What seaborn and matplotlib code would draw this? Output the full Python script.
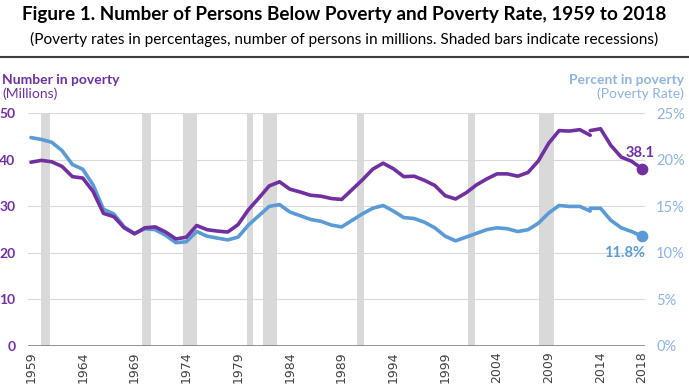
import numpy as np
import pandas as pd
import seaborn as sns
import matplotlib.pyplot as plt

# poverty data, Census figure 1 (2013 has two estimates, so the line breaks there)
years_a = list(range(1959, 2014))
number_a = [39.5, 39.9, 39.6, 38.6, 36.4, 36.1, 33.2, 28.5, 27.8, 25.4,
            24.1, 25.4, 25.6, 24.5, 23.0, 23.4, 25.9, 25.0, 24.7, 24.5,
            26.1, 29.3, 31.8, 34.4, 35.3, 33.7, 33.1, 32.4, 32.2, 31.7,
            31.5, 33.6, 35.7, 38.0, 39.3, 38.1, 36.4, 36.5, 35.6, 34.5,
            32.3, 31.6, 32.9, 34.6, 35.9, 37.0, 37.0, 36.5, 37.3, 39.8,
            43.6, 46.3, 46.2, 46.5, 45.3]
rate_a = [22.4, 22.2, 21.9, 21.0, 19.5, 19.0, 17.3, 14.7, 14.2, 12.8,
          12.1, 12.6, 12.5, 11.9, 11.1, 11.2, 12.3, 11.8, 11.6, 11.4,
          11.7, 13.0, 14.0, 15.0, 15.2, 14.4, 14.0, 13.6, 13.4, 13.0,
          12.8, 13.5, 14.2, 14.8, 15.1, 14.5, 13.8, 13.7, 13.3, 12.7,
          11.8, 11.3, 11.7, 12.1, 12.5, 12.7, 12.6, 12.3, 12.5, 13.2,
          14.3, 15.1, 15.0, 15.0, 14.5]
years_b = [2013, 2014, 2015, 2016, 2017, 2018]
number_b = [46.3, 46.7, 43.1, 40.6, 39.7, 38.1]
rate_b = [14.8, 14.8, 13.5, 12.7, 12.3, 11.8]

# recession periods (as drawn)
recessions = [(1959.95, 1960.8), (1969.7, 1970.55), (1973.7, 1975.0),
              (1979.9, 1980.4), (1981.4, 1982.8), (1990.5, 1991.2),
              (2001.2, 2001.9), (2008.1, 2009.5)]
tick_years = [1959, 1964, 1969, 1974, 1979, 1984, 1989, 1994, 1999, 2004, 2009, 2014, 2018]

purple = '#7030a0'
blue = '#5b9bd5'
lightblue = '#8db4e2'

sns.set_style('white')
plt.rcParams['font.family'] = ['Lato', 'DejaVu Sans']

df_a = pd.DataFrame({'year': years_a, 'number': number_a, 'rate': rate_a})
df_b = pd.DataFrame({'year': years_b, 'number': number_b, 'rate': rate_b})

fig = plt.figure(figsize=(6.89, 3.87), dpi=100)
ax = fig.add_axes([0.0406, 0.106, 0.8955, 0.601])
ax2 = ax.twinx()
# ax (number, purple) sits on top; ax2 (rate, blue) holds the bars and grid
ax.set_zorder(ax2.get_zorder() + 1)
ax.patch.set_visible(False)

for start, end in recessions:
    ax2.axvspan(start, end, color='#d9d9d9', lw=0, zorder=0)
for y in [5, 10, 15, 20, 25]:
    ax2.axhline(y, color='#d9d9d9', lw=0.8, zorder=0.5)

for d in [df_a, df_b]:
    sns.lineplot(data=d, x='year', y='rate', ax=ax2, color=blue, lw=2.6, zorder=2)
    sns.lineplot(data=d, x='year', y='number', ax=ax, color=purple, lw=2.6, zorder=2)

ax.scatter([years_b[-1]], [number_b[-1]], s=55, color=purple, zorder=5, clip_on=False)
ax2.scatter([years_b[-1]], [rate_b[-1]], s=55, color=blue, zorder=5, clip_on=False)
ax.text(years_b[-1] - 0.2, number_b[-1] + 1.8, '38.1', color=purple,
        fontsize=10.5, fontweight='bold', ha='center', va='bottom')
ax2.text(years_b[-1] + 0.3, rate_b[-1] - 1.0, '11.8%', color=blue,
         fontsize=10.5, fontweight='bold', ha='right', va='top')

ax.set_xlim(1958.71, 2018.29)
ax.set_ylim(0, 50)
ax2.set_ylim(0, 25)

ax.set_xticks(tick_years)
ax.set_xticklabels([str(t) for t in tick_years], rotation=90,
                   fontsize=9, color='#404040', family='DejaVu Sans')
ax.set_yticks([0, 10, 20, 30, 40, 50])
ax.set_yticklabels(['0', '10', '20', '30', '40', '50'], color=purple,
                   fontweight='bold', fontsize=10)
ax2.set_yticks([0, 5, 10, 15, 20, 25])
ax2.set_yticklabels(['0%', '5%', '10%', '15%', '20%', '25%'],
                    color=lightblue, fontsize=10.5)
ax.tick_params(axis='y', length=0, pad=9)
ax.tick_params(axis='x', length=0, pad=4)
ax2.tick_params(axis='y', length=0, pad=8)
ax.set_xlabel('')
ax.set_ylabel('')
ax2.set_ylabel('')

for a in [ax, ax2]:
    for s in ['top', 'left', 'right', 'bottom']:
        a.spines[s].set_visible(False)
ax.axhline(0, color='#808080', lw=1.2, zorder=1)

fig.text(0.5, 0.963, 'Figure 1. Number of Persons Below Poverty and Poverty Rate, 1959 to 2018',
         ha='center', va='center', fontsize=13.6, fontweight='bold', color='black')
fig.text(0.5, 0.897, '(Poverty rates in percentages, number of persons in millions. Shaded bars indicate recessions)',
         ha='center', va='center', fontsize=11.1, color='black')
fig.add_artist(plt.Line2D([0, 1], [0.853, 0.853], color='#404040', lw=1.5))

fig.text(0.003, 0.793, 'Number in poverty', ha='left', va='center',
         fontsize=10, fontweight='bold', color=purple)
fig.text(0.003, 0.757, '(Millions)', ha='left', va='center',
         fontsize=10, color=purple)
fig.text(0.993, 0.793, 'Percent in poverty', ha='right', va='center',
         fontsize=10, fontweight='bold', color=lightblue)
fig.text(0.993, 0.757, '(Poverty Rate)', ha='right', va='center',
         fontsize=10, color=lightblue)

fig.savefig('out.png', dpi=100)
